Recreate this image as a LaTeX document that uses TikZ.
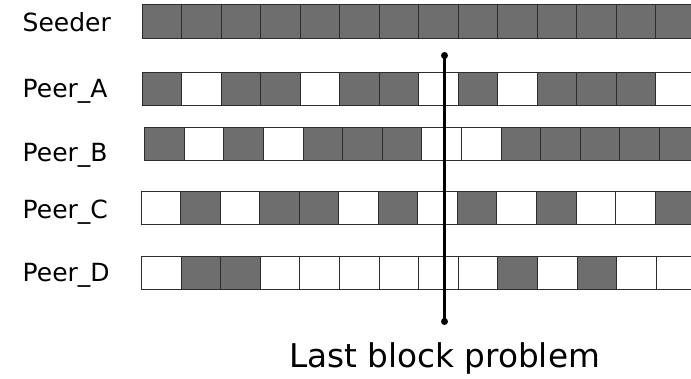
\documentclass[tikz,border=0pt]{standalone}
\usepackage{fontspec}
\setmainfont{DejaVu Sans}
\definecolor{blockfill}{RGB}{110,110,110}
\definecolor{blockline}{RGB}{45,45,45}
\begin{document}
\begin{tikzpicture}[x=1pt,y=-1pt,
  cell/.style={draw=blockline, line width=1pt, inner sep=0pt, outer sep=0pt},
  b1/.style={fill=blockfill},
  b0/.style={fill=white},
  lbl/.style={anchor=base west, inner sep=0pt, font=\fontsize{25}{30}\selectfont},
  dot/.style={circle, fill=black, inner sep=0pt, minimum size=7pt},
  marker/.style={line width=3pt, black}]
\useasboundingbox (0,0) rectangle (691,379);
\clip (0,0) rectangle (691,379);

% rows of blocks: name / left edge / block width / top / bottom / have(1) or missing(0)
\foreach \name/\xo/\w/\yt/\yb/\pattern in {
  seed/142/39.5/5/38.7/{1,1,1,1,1,1,1,1,1,1,1,1,1,1},
  pa/142/39.5/72.7/106/{1,0,1,1,0,1,1,0,1,0,1,1,1,0},
  pb/144.6/39.6/127.3/160.7/{1,0,1,0,1,1,1,0,0,1,1,1,1,1},
  pc/141/39.55/191.7/224.3/{0,1,0,1,1,0,1,0,1,0,1,0,0,1},
  pd/141.5/39.6/256.7/290/{0,1,1,0,0,0,0,0,0,1,0,1,0,0}}{
  \foreach \c [count=\i from 0] in \pattern {
    \node[cell, b\c, minimum width=\w pt, minimum height={\yb pt-\yt pt}]
      (\name-\i) at ({\xo+\w*(\i+0.5)}, {(\yt+\yb)/2}) {};
  }
}

% row labels
\node[lbl] (lseed) at (22.5,31.9) {Seeder};
\node[lbl] (lpa) at (22.5,97.8) {Peer\_A};
\node[lbl] (lpb) at (22.5,161.7) {Peer\_B};
\node[lbl] (lpc) at (22.5,218.3) {Peer\_C};
\node[lbl] (lpd) at (22.5,281.7) {Peer\_D};

% marker for the last block
\node[dot] (mtop) at (444.5,55.5) {};
\node[dot] (mbot) at (444.5,321.5) {};
\draw[marker] (mtop.center) -- (mbot.center);

\node[anchor=base, inner sep=0pt, font=\fontsize{32.7}{39}\selectfont]
  (caption) at (444.5,367.5) {Last block problem};
\end{tikzpicture}
\end{document}
